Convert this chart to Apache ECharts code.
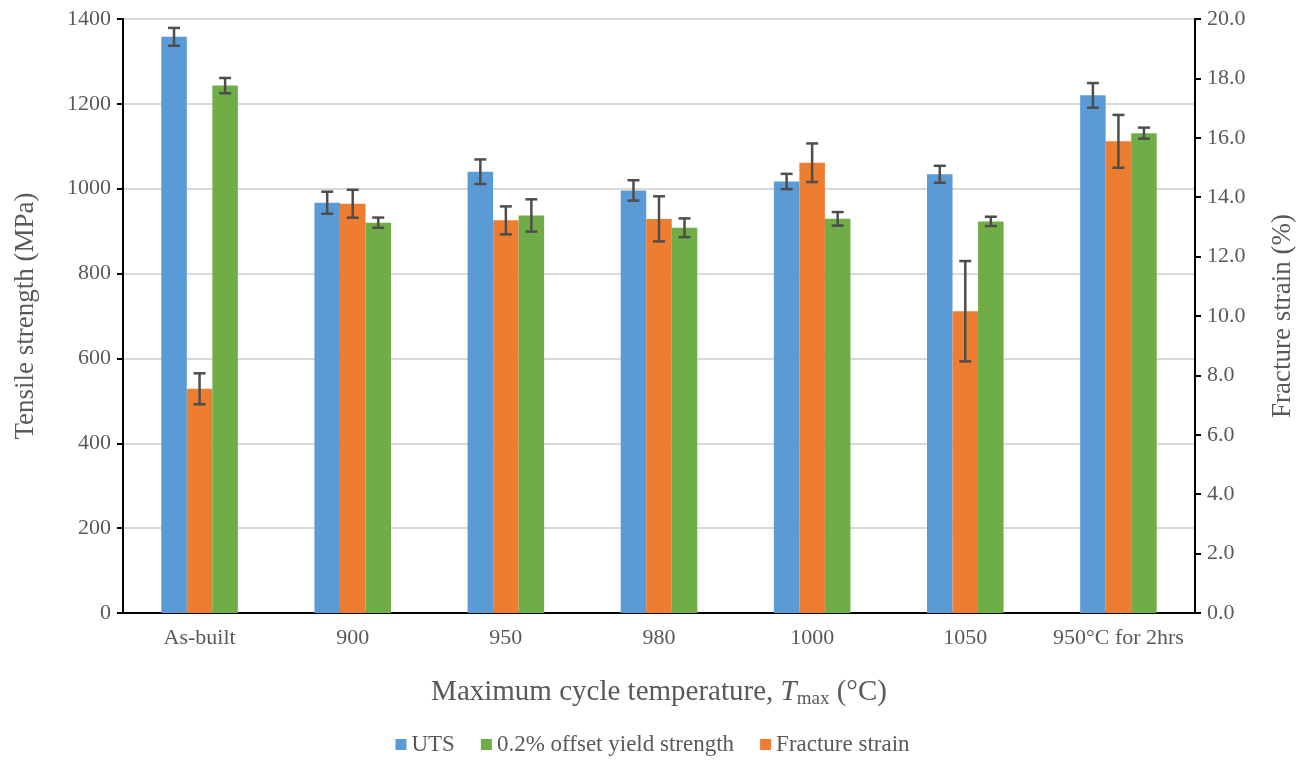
<!DOCTYPE html>
<html>
<head>
<meta charset="utf-8">
<script src="https://cdn.jsdelivr.net/npm/echarts@6/dist/echarts.min.js"></script>
<style>
  html, body { margin: 0; padding: 0; background: #ffffff; }
  #chart { width: 1305px; height: 761px; }
</style>
</head>
<body>
<div id="chart"></div>
<script>
// Tensile properties after cyclic heat treatment
const categories = ['As-built', '900', '950', '980', '1000', '1050', '950°C for 2hrs'];

// Ultimate tensile strength (MPa) and standard deviation
const uts = [1358, 967, 1040, 996, 1017, 1034, 1220];
const utsErr = [21, 26, 29, 24, 18, 20, 29];

// 0.2% offset yield strength (MPa) and standard deviation
const yieldStrength = [1243, 920, 937, 908, 929, 923, 1131];
const yieldErr = [18, 12, 38, 22, 16, 11, 13];

// Fracture strain (%) and standard deviation
const fractureStrain = [7.55, 13.78, 13.22, 13.27, 15.16, 10.16, 15.88];
const strainErr = [0.52, 0.47, 0.47, 0.76, 0.65, 1.69, 0.89];

const leftTicks = { min: 0, max: 1400, interval: 200 };
const rightTicks = { min: 0, max: 20, interval: 2 };

const COLORS = { uts: '#5B9BD5', strain: '#ED7D31', yield: '#70AD47' };
const TEXT = '#595959';
const FONT = 'Liberation Serif';
const BAR_COUNT = 3;
const CATEGORY_FILL = 0.5;

// Error bars: value = [categoryIndex, low, high]; slot = position within the group
function errorSeries(values, errs, axisIndex, slot) {
  const data = values.map((v, i) => [i, v - errs[i], v + errs[i]]);
  return {
    type: 'custom',
    yAxisIndex: axisIndex,
    z: 10,
    silent: true,
    data: data,
    renderItem: function (params, api) {
      const idx = api.value(0);
      const low = api.coord([idx, api.value(1)]);
      const high = api.coord([idx, api.value(2)]);
      const band = api.size([1, 0])[0];
      const barW = band * CATEGORY_FILL / BAR_COUNT;
      const x = low[0] + (slot - 1) * barW;
      const cap = 6;
      const style = { stroke: '#4d4d4d', lineWidth: 2.5, fill: null };
      return {
        type: 'group',
        children: [
          { type: 'line', shape: { x1: x, y1: high[1], x2: x, y2: low[1] }, style: style },
          { type: 'line', shape: { x1: x - cap, y1: high[1], x2: x + cap, y2: high[1] }, style: style },
          { type: 'line', shape: { x1: x - cap, y1: low[1], x2: x + cap, y2: low[1] }, style: style }
        ]
      };
    }
  };
}

const chart = echarts.init(document.getElementById('chart'), null, { renderer: 'canvas' });

const option = {
  backgroundColor: '#ffffff',
  animation: false,
  textStyle: { fontFamily: FONT, color: TEXT },
  grid: { left: 123, right: 110, top: 19, bottom: 148, containLabel: false },
  legend: {
    bottom: 0,
    left: 'center',
    itemWidth: 11,
    itemHeight: 11,
    itemGap: 26,
    icon: 'rect',
    textStyle: { fontFamily: FONT, fontSize: 23, color: TEXT },
    data: ['UTS', '0.2% offset yield strength', 'Fracture strain']
  },
  xAxis: {
    type: 'category',
    data: categories,
    name: 'Maximum cycle temperature, {it|T}{sub|max} (°C)',
    nameLocation: 'middle',
    nameGap: 62,
    nameTextStyle: {
      fontFamily: FONT, fontSize: 29, color: TEXT,
      rich: {
        it: { fontFamily: FONT, fontSize: 29, fontStyle: 'italic', color: TEXT },
        sub: { fontFamily: FONT, fontSize: 19, color: TEXT, verticalAlign: 'bottom', padding: [15, 0, 0, 0] }
      }
    },
    axisLine: { lineStyle: { color: '#000000', width: 2 } },
    axisTick: { alignWithLabel: true, length: 6, lineStyle: { color: '#000000', width: 2 } },
    axisLabel: { fontFamily: FONT, fontSize: 22, color: TEXT, margin: 14, interval: 0 }
  },
  yAxis: [
    {
      type: 'value',
      min: leftTicks.min, max: leftTicks.max, interval: leftTicks.interval,
      name: 'Tensile strength (MPa)',
      nameLocation: 'middle',
      nameGap: 84,
      nameTextStyle: { fontFamily: FONT, fontSize: 27, color: TEXT },
      axisLine: { show: true, lineStyle: { color: '#000000', width: 2 } },
      axisTick: { show: true, length: 6, lineStyle: { color: '#000000', width: 2 } },
      axisLabel: {
        fontFamily: FONT, fontSize: 22, color: TEXT, margin: 12,
        formatter: function (v) { return String(v); }
      },
      splitLine: { show: true, lineStyle: { color: '#d9d9d9', width: 2 } }
    },
    {
      type: 'value',
      min: rightTicks.min, max: rightTicks.max, interval: rightTicks.interval,
      name: 'Fracture strain (%)',
      nameLocation: 'middle',
      nameGap: 74,
      nameTextStyle: { fontFamily: FONT, fontSize: 27, color: TEXT },
      axisLine: { show: true, lineStyle: { color: '#000000', width: 2 } },
      axisTick: { show: true, length: 6, lineStyle: { color: '#000000', width: 2 } },
      axisLabel: {
        fontFamily: FONT, fontSize: 22, color: TEXT, margin: 12,
        formatter: function (v) { return v.toFixed(1); }
      },
      splitLine: { show: false }
    }
  ],
  series: [
    {
      name: 'UTS', type: 'bar', yAxisIndex: 0, data: uts,
      barGap: '0%', barCategoryGap: '50%',
      itemStyle: { color: COLORS.uts }
    },
    {
      name: 'Fracture strain', type: 'bar', yAxisIndex: 1, data: fractureStrain,
      barGap: '0%', barCategoryGap: '50%',
      itemStyle: { color: COLORS.strain }
    },
    {
      name: '0.2% offset yield strength', type: 'bar', yAxisIndex: 0, data: yieldStrength,
      barGap: '0%', barCategoryGap: '50%',
      itemStyle: { color: COLORS.yield }
    },
    errorSeries(uts, utsErr, 0, 0),
    errorSeries(fractureStrain, strainErr, 1, 1),
    errorSeries(yieldStrength, yieldErr, 0, 2)
  ]
};

chart.setOption(option);
</script>
</body>
</html>
